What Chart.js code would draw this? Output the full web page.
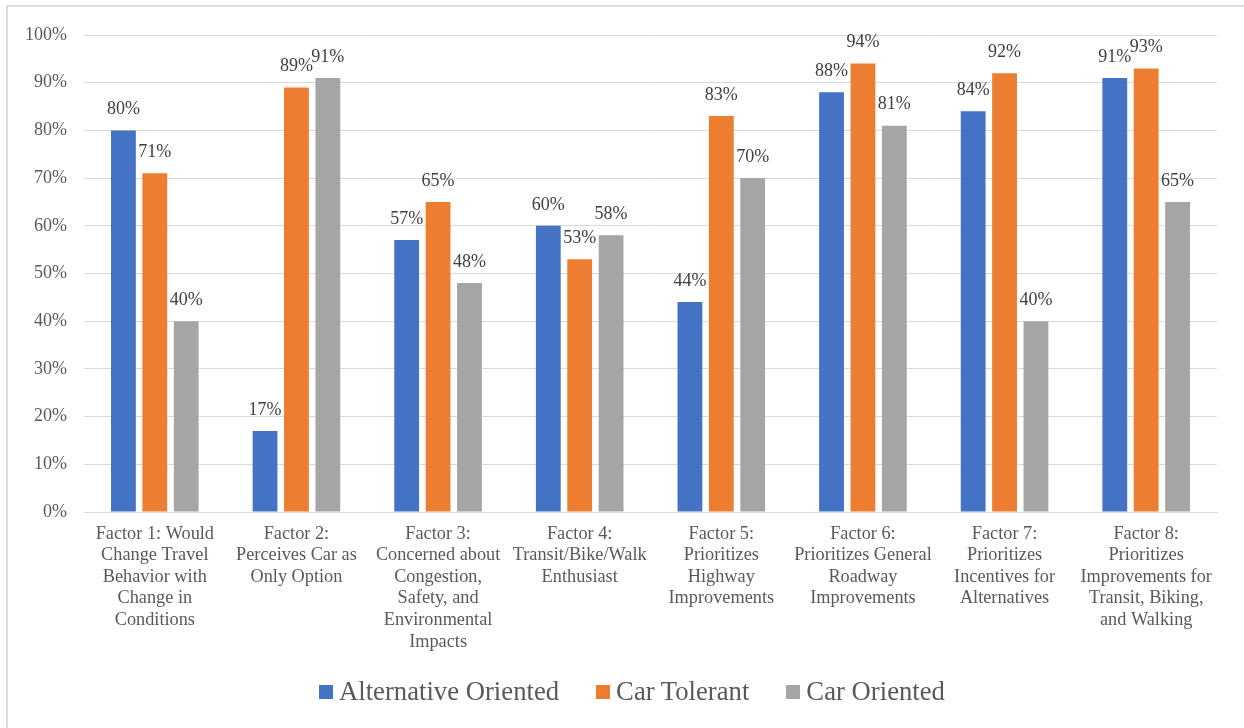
<!DOCTYPE html>
<html lang="en">
<head>
    <meta charset="UTF-8">
    <title>Travel Attitude Factors by Segment</title>
    <script src="https://cdn.jsdelivr.net/npm/chart.js"></script>
    <style>
        * { margin: 0; padding: 0; box-sizing: border-box; }
        body {
            width: 1244px;
            height: 728px;
            overflow: hidden;
            background: white;
            font-family: 'Liberation Serif', 'Times New Roman', serif;
            position: relative;
        }
        .frame {
            position: absolute;
            left: 6px;
            top: 5px;
            width: 1300px;
            height: 800px;
            border-left: 2px solid #dedede;
            border-top: 2px solid #dedede;
        }
        #chart {
            position: absolute;
            left: 0;
            top: 0;
        }
        .legend {
            position: absolute;
            left: 319px;
            top: 676px;
            display: flex;
            align-items: center;
            font-size: 26.7px;
            color: #595959;
            white-space: nowrap;
        }
        .legend .item {
            display: flex;
            align-items: center;
            margin-right: 37px;
        }
        .legend .swatch {
            width: 14px;
            height: 14px;
            margin-right: 6px;
        }
    </style>
</head>
<body>
    <div class="frame"></div>
    <canvas id="chart" width="1244" height="728"></canvas>
    <div class="legend" id="legend"></div>

    <script>
        const categories = [
            ['Factor 1: Would', 'Change Travel', 'Behavior with', 'Change in', 'Conditions'],
            ['Factor 2:', 'Perceives Car as', 'Only Option'],
            ['Factor 3:', 'Concerned about', 'Congestion,', 'Safety, and', 'Environmental', 'Impacts'],
            ['Factor 4:', 'Transit/Bike/Walk', 'Enthusiast'],
            ['Factor 5:', 'Prioritizes', 'Highway', 'Improvements'],
            ['Factor 6:', 'Prioritizes General', 'Roadway', 'Improvements'],
            ['Factor 7:', 'Prioritizes', 'Incentives for', 'Alternatives'],
            ['Factor 8:', 'Prioritizes', 'Improvements for', 'Transit, Biking,', 'and Walking']
        ];

        const seriesNames = ['Alternative Oriented', 'Car Tolerant', 'Car Oriented'];
        const seriesColors = ['#4472C4', '#ED7D31', '#A5A5A5'];

        const alternativeOriented = [80, 17, 57, 60, 44, 88, 84, 91];
        const carTolerant = [71, 89, 65, 53, 83, 94, 92, 93];
        const carOriented = [40, 91, 48, 58, 70, 81, 40, 65];

        const yTicks = [0, 10, 20, 30, 40, 50, 60, 70, 80, 90, 100];

        const serif = "'Liberation Serif', 'Times New Roman', serif";
        const series = [alternativeOriented, carTolerant, carOriented];

        // value labels above each bar
        const barLabels = {
            id: 'barLabels',
            afterDatasetsDraw(chart) {
                const ctx = chart.ctx;
                ctx.save();
                ctx.font = '18px ' + serif;
                ctx.fillStyle = '#404040';
                ctx.textAlign = 'center';
                ctx.textBaseline = 'middle';
                chart.data.datasets.forEach((ds, i) => {
                    chart.getDatasetMeta(i).data.forEach((bar, j) => {
                        ctx.fillText(ds.data[j] + '%', bar.x, bar.y - 21);
                    });
                });
                ctx.restore();
            }
        };

        new Chart(document.getElementById('chart'), {
            type: 'bar',
            data: {
                labels: categories,
                datasets: series.map((data, i) => ({
                    label: seriesNames[i],
                    data: data,
                    backgroundColor: seriesColors[i],
                    categoryPercentage: 0.665,
                    barPercentage: 0.79
                }))
            },
            options: {
                responsive: false,
                animation: false,
                layout: { padding: { top: 35, right: 27, left: 8, bottom: 0 } },
                plugins: {
                    legend: { display: false },
                    tooltip: { enabled: false }
                },
                scales: {
                    x: {
                        grid: { display: false },
                        border: { color: '#d9d9d9', width: 1 },
                        ticks: {
                            color: '#595959',
                            font: { family: serif, size: 18.3, lineHeight: 1.18 },
                            padding: 3,
                            maxRotation: 0,
                            autoSkip: false
                        },
                        afterFit(scale) { scale.height = 216; }
                    },
                    y: {
                        min: 0,
                        max: 100,
                        afterBuildTicks(scale) {
                            scale.ticks = yTicks.map(v => ({ value: v }));
                        },
                        grid: { color: '#d9d9d9', lineWidth: 1, drawTicks: false },
                        border: { display: false },
                        ticks: {
                            color: '#595959',
                            font: { family: serif, size: 18 },
                            padding: 17,
                            callback: v => v + '%'
                        },
                        afterFit(scale) { scale.width = 76; }
                    }
                }
            },
            plugins: [barLabels]
        });

        // legend row under the chart
        const legend = document.getElementById('legend');
        seriesNames.forEach((name, i) => {
            const item = document.createElement('div');
            item.className = 'item';
            item.innerHTML = '<span class="swatch" style="background:' + seriesColors[i] + '"></span><span>' + name + '</span>';
            legend.appendChild(item);
        });
    </script>
</body>
</html>
